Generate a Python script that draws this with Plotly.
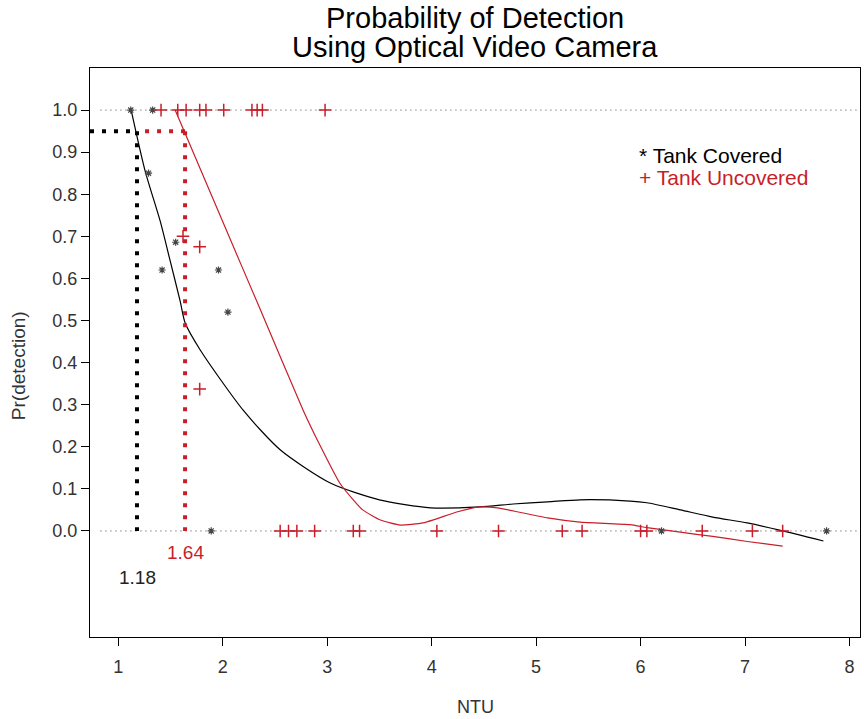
import plotly.graph_objects as go

# ---- data ----
covered_x = [1.12, 1.33, 1.29, 1.55, 1.42, 1.96, 2.05, 1.89, 6.20, 7.78]
covered_y = [1.0, 1.0, 0.85, 0.686, 0.62, 0.62, 0.52, 0.0, 0.0, 0.0]

uncovered_x = [1.41, 1.57, 1.65, 1.78, 1.84, 2.01, 2.28, 2.33, 2.38, 2.98,
               1.62, 1.78, 1.78,
               2.55, 2.63, 2.71, 2.88, 3.25, 3.31, 4.05, 4.64, 5.25, 5.44,
               6.00, 6.06, 6.59, 7.07, 7.36]
uncovered_y = [1.0] * 10 + [0.70, 0.675, 0.337] + [0.0] * 15

fit_cov_x = [1.124, 1.258, 1.402, 1.498, 1.593, 1.641, 1.785, 2.196, 2.55, 3.03,
             3.50, 3.99, 4.46, 4.78, 5.11, 5.42, 5.90, 6.06, 6.38, 6.69, 7.02,
             7.33, 7.75]
fit_cov_y = [1.0, 0.855, 0.736, 0.641, 0.546, 0.494, 0.43, 0.287, 0.193, 0.114,
             0.074, 0.055, 0.057, 0.064, 0.069, 0.074, 0.071, 0.067, 0.050, 0.033,
             0.019, 0.002, -0.024]

fit_unc_x = [1.545, 1.995, 2.36, 2.77, 2.93, 3.12, 3.25, 3.34, 3.51, 3.70, 3.92,
             4.24, 4.46, 4.63, 5.11, 5.42, 5.90, 6.06, 6.38, 6.69, 7.02, 7.36]
fit_unc_y = [1.0, 0.738, 0.526, 0.287, 0.204, 0.114, 0.074, 0.05, 0.026, 0.014,
             0.019, 0.045, 0.057, 0.055, 0.031, 0.021, 0.015, 0.008, -0.003,
             -0.013, -0.025, -0.036]

ntu_cov = 1.18
ntu_unc = 1.64
target_pr = 0.95
ref_levels = [0.0, 1.0]
ref_x_span = [0.83, 8.08]

x_range = [0.73, 8.10]
y_range = [-0.252, 1.10]
x_ticks = [1, 2, 3, 4, 5, 6, 7, 8]
y_ticks = [0.0, 0.1, 0.2, 0.3, 0.4, 0.5, 0.6, 0.7, 0.8, 0.9, 1.0]

title_lines = ["Probability of Detection", "Using Optical Video Camera"]

RED = "#c81e2a"
FONT = "Liberation Sans, Arial, sans-serif"

fig = go.Figure()

# dotted reference lines at 0 and 1
for lv in ref_levels:
    fig.add_trace(go.Scatter(x=ref_x_span, y=[lv, lv], mode="lines",
                             line=dict(color="#444", width=1, dash="1px,4px"),
                             hoverinfo="skip", showlegend=False))

# fitted curves
fig.add_trace(go.Scatter(x=fit_cov_x, y=fit_cov_y, mode="lines",
                         line=dict(color="black", width=1.2, shape="spline", smoothing=0.7),
                         showlegend=False))
fig.add_trace(go.Scatter(x=fit_unc_x, y=fit_unc_y, mode="lines",
                         line=dict(color=RED, width=1.2, shape="spline", smoothing=0.5),
                         showlegend=False))

# thick dotted guide lines
fig.add_trace(go.Scatter(x=[ntu_unc, ntu_cov], y=[target_pr, target_pr], mode="lines",
                         line=dict(color=RED, width=4, dash="4px,8px"),
                         showlegend=False))
fig.add_trace(go.Scatter(x=[ntu_unc, ntu_unc], y=[target_pr, 0.0], mode="lines",
                         line=dict(color=RED, width=4, dash="4px,8px"),
                         showlegend=False))
fig.add_trace(go.Scatter(x=[x_range[0], ntu_cov], y=[target_pr, target_pr], mode="lines",
                         line=dict(color="black", width=4, dash="4px,8px"),
                         showlegend=False))
fig.add_trace(go.Scatter(x=[ntu_cov, ntu_cov], y=[target_pr, 0.0], mode="lines",
                         line=dict(color="black", width=4, dash="4px,8px"),
                         showlegend=False))

# points
fig.add_trace(go.Scatter(x=covered_x, y=covered_y, mode="markers",
                         marker=dict(symbol="asterisk-open", size=6, color="#444",
                                     line=dict(color="#444", width=1.2)),
                         showlegend=False))
fig.add_trace(go.Scatter(x=uncovered_x, y=uncovered_y, mode="markers",
                         marker=dict(symbol="cross-thin-open", size=9, color=RED,
                                     line=dict(color=RED, width=1.5)),
                         showlegend=False))

annotations = [
    dict(x=0.5, y=1.088, xref="paper", yref="paper", text=title_lines[0],
         yanchor="middle", showarrow=False, font=dict(size=29, color="black", family=FONT)),
    dict(x=0.5, y=1.037, xref="paper", yref="paper", text=title_lines[1],
         yanchor="middle", showarrow=False, font=dict(size=29, color="black", family=FONT)),
    dict(x=ntu_cov, y=-0.11, xref="x", yref="y", text=f"{ntu_cov:.2f}",
         yanchor="middle", showarrow=False, font=dict(size=19, color="#222", family=FONT)),
    dict(x=ntu_unc, y=-0.052, xref="x", yref="y", text=f"{ntu_unc:.2f}",
         yanchor="middle", showarrow=False, font=dict(size=19, color=RED, family=FONT)),
    dict(x=0.71, y=0.847, xref="paper", yref="paper", text="* Tank Covered",
         xanchor="left", yanchor="middle", showarrow=False,
         font=dict(size=21, color="black", family=FONT)),
    dict(x=0.71, y=0.808, xref="paper", yref="paper", text="+ Tank Uncovered",
         xanchor="left", yanchor="middle", showarrow=False,
         font=dict(size=21, color=RED, family=FONT)),
    dict(x=-0.0935, y=0.476, xref="paper", yref="paper", text="Pr(detection)",
         textangle=-90, xanchor="center", yanchor="middle", showarrow=False,
         font=dict(size=19, color="#333", family=FONT)),
    dict(x=0.5, y=-0.123, xref="paper", yref="paper", text="NTU",
         yanchor="middle", showarrow=False, font=dict(size=18, color="#333", family=FONT)),
]

fig.update_layout(
    width=864, height=719,
    margin=dict(l=90, r=4, t=68, b=82),
    paper_bgcolor="white", plot_bgcolor="white",
    annotations=annotations,
    font=dict(family=FONT),
    showlegend=False,
)
fig.update_xaxes(range=x_range, tickvals=x_ticks, ticks="outside", ticklen=8,
                 tickcolor="black", showline=True, linecolor="black", linewidth=1,
                 mirror=True, showgrid=False, zeroline=False,
                 tickfont=dict(size=18, color="#333"), ticklabelstandoff=5)
fig.update_yaxes(range=y_range, tickvals=y_ticks, tickformat=".1f", ticks="outside",
                 ticklen=8, tickcolor="black", showline=True, linecolor="black",
                 linewidth=1, mirror=True, showgrid=False, zeroline=False,
                 tickfont=dict(size=18, color="#333"))

fig.write_html("out.html", config={"displayModeBar": False},
               post_script="document.body.style.margin='0';document.body.style.overflow='hidden';")
